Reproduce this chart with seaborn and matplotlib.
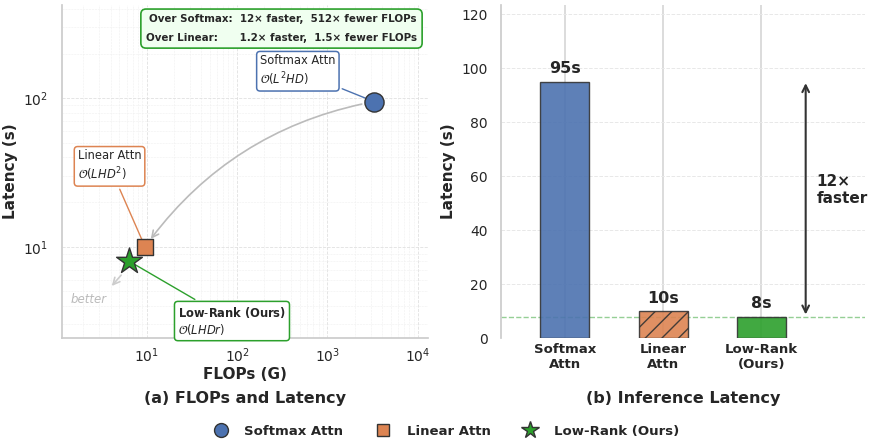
import numpy as np
import pandas as pd
import matplotlib
matplotlib.use("Agg")
import matplotlib.pyplot as plt
from matplotlib.lines import Line2D
import seaborn as sns

sns.set_theme(style="whitegrid")
plt.rcParams['font.family'] = ['DejaVu Sans']
plt.rcParams['mathtext.fontset'] = 'dejavusans'

# data
methods = ["Softmax Attn", "Linear Attn", "Low-Rank (Ours)"]
bar_labels = ["Softmax\nAttn", "Linear\nAttn", "Low-Rank\n(Ours)"]
flops = [3276.8, 9.6, 6.4]          # GFLOPs
latency = [95, 10, 8]               # seconds
complexity = [r"$\mathcal{O}(L^2HD)$", r"$\mathcal{O}(LHD^2)$", r"$\mathcal{O}(LHDr)$"]
colors = ["#4C72B0", "#DD8452", "#2ca02c"]
markers = ["o", "s", "*"]
sizes = [190, 140, 380]

fig = plt.figure(figsize=(8.69, 4.41), dpi=100)
ax1 = fig.add_axes([0.071, 0.233, 0.4215, 0.756])
ax2 = fig.add_axes([0.5765, 0.233, 0.4185, 0.756])

# ---- (a) FLOPs vs latency ----
ax1.set_xscale('log')
ax1.set_yscale('log')
for i in range(3):
    sns.scatterplot(x=[flops[i]], y=[latency[i]], marker=markers[i], s=sizes[i],
                    color=colors[i], edgecolor='#333333', linewidth=1, ax=ax1, zorder=5)
ax1.set_xlim(1.15, 12950)
ax1.set_ylim(2.42, 426)
ax1.grid(True, which='major', ls='--', lw=0.6, color='#e0e0e0')
ax1.grid(True, which='minor', ls='--', lw=0.4, color='#efefef')
sns.despine(ax=ax1)
for s in ['left', 'bottom']:
    ax1.spines[s].set_color('#cccccc')
ax1.set_xlabel("FLOPs (G)", fontsize=11, fontweight='bold', labelpad=1)
ax1.set_ylabel("Latency (s)", fontsize=11, fontweight='bold')
ax1.tick_params(labelsize=10)
ax1.tick_params(axis='x', pad=0)

# trade-off curve
ax1.annotate("", xy=(flops[1], latency[1]), xytext=(flops[0], latency[0]),
             arrowprops=dict(arrowstyle='->', color='#bbbbbb', lw=1.2,
                             connectionstyle='arc3,rad=0.2', shrinkA=9, shrinkB=7))

box_pos = [(180, 153), (1.73, 35), (22.2, 3.16)]
box_txt = ["Softmax Attn\n" + complexity[0],
           "Linear Attn\n" + complexity[1],
           r"$\bf{Low}$-$\bf{Rank}$ $\bf{(Ours)}$" + "\n" + complexity[2]]
for i in range(3):
    ax1.annotate(box_txt[i], xy=(flops[i], latency[i]), xytext=box_pos[i],
                 fontsize=8.3, ha='left', va='center', color='#262626',
                 bbox=dict(boxstyle='round,pad=0.3', fc='white', ec=colors[i], lw=1.1),
                 arrowprops=dict(arrowstyle='-', color=colors[i], lw=1), zorder=4)

ax1.annotate("", xy=(3.93, 5.27), xytext=(5.47, 6.65),
             arrowprops=dict(arrowstyle='->', color='#cccccc', lw=1.2))
ax1.text(2.3, 4.38, "better", fontsize=8.5, style='italic', color='#bbbbbb',
         ha='center', va='center')

ax1.text(0.97, 0.972,
         "Over Softmax:  12\u00d7 faster,  512\u00d7 fewer FLOPs\n"
         "Over Linear:      1.2\u00d7 faster,  1.5\u00d7 fewer FLOPs",
         transform=ax1.transAxes, ha='right', va='top', fontsize=7.4,
         fontweight='bold', linespacing=2.1, color='#262626',
         bbox=dict(boxstyle='round,pad=0.5', fc='#f0fff0', ec='#2ca02c', lw=1.2))

# ---- (b) inference latency ----
df = pd.DataFrame({'method': bar_labels, 'latency': latency})
sns.barplot(data=df, x='method', y='latency', hue='method', palette=colors,
            saturation=1, width=0.5, edgecolor='#333333', linewidth=1, alpha=0.9,
            legend=False, ax=ax2, zorder=3)
ax2.patches[1].set_hatch('//')
for i, v in enumerate(latency):
    ax2.text(i, v + 2, f"{v}s", ha='center', va='bottom', fontsize=11.5,
             fontweight='bold', color='#262626')
ax2.axhline(latency[2], color='#2ca02c', ls='--', lw=1, alpha=0.5, zorder=2)
ax2.annotate("", xy=(2.45, 8.8), xytext=(2.45, 94.5),
             arrowprops=dict(arrowstyle='<->', color='#333333', lw=1.5,
                             shrinkA=0, shrinkB=0))
ax2.text(2.56, 55, "12\u00d7\nfaster", fontsize=11, fontweight='bold',
         ha='left', va='center', color='#262626')
ax2.set_xlim(-0.65, 3.05)
ax2.set_ylim(0, 123.5)
ax2.grid(False)
ax2.grid(axis='y', ls='--', color='#e8e8e8', lw=0.7)
ax2.grid(axis='x', ls='-', color='#d6d6d6', lw=1.2)
sns.despine(ax=ax2, bottom=True)
ax2.spines['left'].set_color('#cccccc')
ax2.set_xlabel("")
ax2.set_ylabel("Latency (s)", fontsize=11, fontweight='bold')
ax2.tick_params(axis='y', labelsize=10)
ax2.tick_params(axis='x', labelsize=9.5, pad=-2.5)
for t in ax2.get_xticklabels():
    t.set_fontweight('bold')

fig.text(0.282, 0.0975, "(a) FLOPs and Latency", ha='center', va='center',
         fontsize=11.5, fontweight='bold', color='#262626')
fig.text(0.786, 0.0975, "(b) Inference Latency", ha='center', va='center',
         fontsize=11.5, fontweight='bold', color='#262626')

handles = [Line2D([], [], ls='none', marker=markers[i], markerfacecolor=colors[i],
                  markeredgecolor='#333333', markersize=[10, 9, 13][i])
           for i in range(3)]
fig.legend(handles, methods, loc='lower center', bbox_to_anchor=(0.51, -0.02),
           ncol=3, frameon=False, prop={'weight': 'bold', 'size': 9.5})

fig.savefig("out.png", dpi=100)
